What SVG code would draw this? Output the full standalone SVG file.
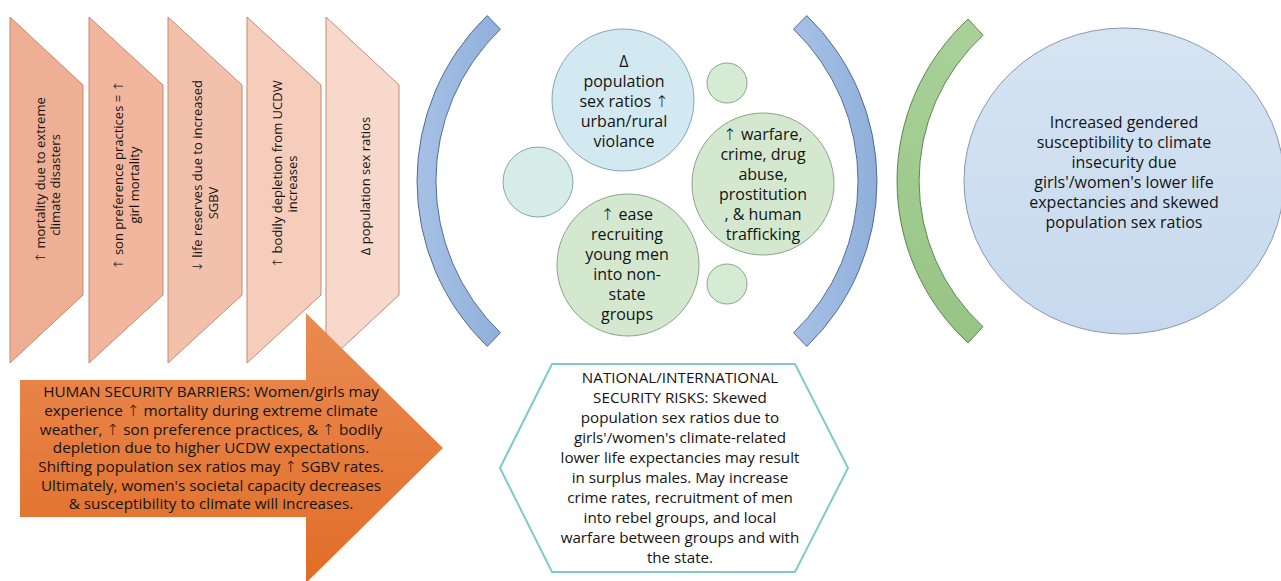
<svg xmlns="http://www.w3.org/2000/svg" width="1281" height="581" viewBox="0 0 1281 581">
<defs>
<style>
text{font-family:"Open Sans","Liberation Sans",sans-serif;fill:#141414;text-anchor:middle}
.ar{font-family:"DejaVu Sans",sans-serif;font-weight:200}
.pt{font-size:13px}
.ct{font-size:16px}
.at{font-size:15.3px}
.ht{font-size:15.2px}
.pent{stroke:#C28B76;stroke-width:1}
.bub{stroke-width:1}
</style>
<linearGradient id="gOr" x1="0" y1="0" x2="0" y2="1"><stop offset="0" stop-color="#EA8B52"/><stop offset="1" stop-color="#E16D27"/></linearGradient>
<linearGradient id="gBl" x1="0" y1="0" x2="1" y2="0"><stop offset="0" stop-color="#A7C1E5"/><stop offset="1" stop-color="#8FAFDA"/></linearGradient>
<linearGradient id="gGr" x1="0" y1="0" x2="0" y2="1"><stop offset="0" stop-color="#A9D19A"/><stop offset="1" stop-color="#97C585"/></linearGradient>
<linearGradient id="gBig" x1="0" y1="0" x2="0" y2="1"><stop offset="0" stop-color="#D6E4F2"/><stop offset="1" stop-color="#C6D9EE"/></linearGradient>
</defs>

<g id="pentagon1"><polygon class="pent" points="10,17 83,85 83,295 10,363" fill="#EEAF94"/>
<text class="pt" transform="translate(44.5,180) rotate(-90)"><tspan x="0" y="0"><tspan class="ar">↑</tspan> mortality due to extreme</tspan><tspan x="-5" y="15">climate disasters</tspan></text></g>
<g id="pentagon2"><polygon class="pent" points="89,17 163,85 163,295 89,363" fill="#F1B69D"/>
<text class="pt" transform="translate(122.5,175) rotate(-90)"><tspan x="0" y="0"><tspan class="ar">↑</tspan> son preference practices = <tspan class="ar">↑</tspan></tspan><tspan x="-10" y="16">girl mortality</tspan></text></g>
<g id="pentagon3"><polygon class="pent" points="168,17 242,85 242,295 168,363" fill="#F3C1AB"/>
<text class="pt" transform="translate(201.5,176) rotate(-90)"><tspan x="0" y="0"><tspan class="ar">↓</tspan> life reserves due to increased</tspan><tspan x="-27" y="16">SGBV</tspan></text></g>
<g id="pentagon4"><polygon class="pent" points="247,17 321,85 321,295 247,363" fill="#F6CCBA"/>
<text class="pt" transform="translate(281.5,174) rotate(-90)"><tspan x="0" y="0"><tspan class="ar">↑</tspan> bodily depletion from UCDW</tspan><tspan x="-10" y="15">increases</tspan></text></g>
<g id="pentagon5"><polygon class="pent" points="326,17 399,85 399,295 326,363" fill="#F8D8CA"/>
<text class="pt" transform="translate(369.5,186) rotate(-90)"><tspan x="0" y="0">Δ population sex ratios</tspan></text></g>

<g id="arrow"><polygon points="20,380 306,380 306,313 443,448 306,583 306,517 20,517" fill="url(#gOr)"/>
<text class="at"><tspan x="211" y="397">HUMAN SECURITY BARRIERS: Women/girls may</tspan><tspan x="211" y="416">experience <tspan class="ar">↑</tspan> mortality during extreme climate</tspan><tspan x="211" y="434.5">weather, <tspan class="ar">↑</tspan> son preference practices, &amp; <tspan class="ar">↑</tspan> bodily</tspan><tspan x="211" y="453">depletion due to higher UCDW expectations.</tspan><tspan x="211" y="472">Shifting population sex ratios may <tspan class="ar">↑</tspan> SGBV rates.</tspan><tspan x="211" y="490.5">Ultimately, women's societal capacity decreases</tspan><tspan x="211" y="509">&amp; susceptibility to climate will increases.</tspan></text></g>

<g id="connectors">
<path id="bracketLeft" d="M487.2,15.6 A230,230 0 0 0 487.2,346.4 L500.4,332.8 A211,211 0 0 1 500.4,29.2 Z" fill="url(#gBl)" stroke="#4F6C95" stroke-width="1"/>
<path id="bracketRight" d="M806.8,15.6 A230,230 0 0 1 806.8,346.4 L793.6,332.8 A211,211 0 0 0 793.6,29.2 Z" fill="url(#gBl)" stroke="#4F6C95" stroke-width="1"/>
<path id="bracketGreen" d="M968.1,19.1 A220,220 0 0 0 968.1,342.9 L983,326.7 A198,198 0 0 1 983,35.3 Z" fill="url(#gGr)" stroke="#5A854E" stroke-width="1"/>
</g>

<g id="circleSmallLeft"><circle class="bub" cx="538" cy="182" r="35" fill="#D6ECE8" stroke="#86A8A3"/></g>
<g id="circleSmallTop"><circle class="bub" cx="727" cy="83" r="20" fill="#D6EBD4" stroke="#89A885"/></g>
<g id="circleSmallBottom"><circle class="bub" cx="727" cy="284" r="20" fill="#D6EBD4" stroke="#89A885"/></g>
<g id="circleTop"><circle class="bub" cx="623" cy="100" r="71" fill="#D3E9F1" stroke="#86A4B2"/>
<text class="ct"><tspan x="624" y="67">Δ</tspan><tspan x="624" y="87">population</tspan><tspan x="624" y="107">sex ratios <tspan class="ar">↑</tspan></tspan><tspan x="624" y="127">urban/rural</tspan><tspan x="624" y="147">violance</tspan></text></g>
<g id="circleBottom"><circle class="bub" cx="628" cy="265" r="71" fill="#D3E8CF" stroke="#89A684"/>
<text class="ct"><tspan x="627" y="220"><tspan class="ar">↑</tspan> ease</tspan><tspan x="627" y="240">recruiting</tspan><tspan x="627" y="260">young men</tspan><tspan x="627" y="280">into non-</tspan><tspan x="627" y="300">state</tspan><tspan x="627" y="320">groups</tspan></text></g>
<g id="circleRight"><circle class="bub" cx="763" cy="184" r="71" fill="#D3E8CF" stroke="#89A684"/>
<text class="ct"><tspan x="763" y="140"><tspan class="ar">↑</tspan> warfare,</tspan><tspan x="763" y="160">crime, drug</tspan><tspan x="763" y="180">abuse,</tspan><tspan x="763" y="200">prostitution</tspan><tspan x="763" y="220">, &amp; human</tspan><tspan x="763" y="240">trafficking</tspan></text></g>

<g id="hexagon"><polygon points="500,468 552,364 795,364 848,468 795,572 552,572" fill="#FFFFFF" stroke="#7FCACA" stroke-width="2"/>
<text class="ht"><tspan x="680" y="383">NATIONAL/INTERNATIONAL</tspan><tspan x="680" y="403">SECURITY RISKS: Skewed</tspan><tspan x="680" y="423">population sex ratios due to</tspan><tspan x="680" y="443">girls'/women's climate-related</tspan><tspan x="680" y="463">lower life expectancies may result</tspan><tspan x="680" y="483">in surplus males. May increase</tspan><tspan x="680" y="503">crime rates, recruitment of men</tspan><tspan x="680" y="523">into rebel groups, and local</tspan><tspan x="680" y="543">warfare between groups and with</tspan><tspan x="680" y="563">the state.</tspan></text></g>

<g id="bigCircle"><ellipse cx="1124" cy="181" rx="160" ry="153" fill="url(#gBig)" stroke="#8898AE" stroke-width="1"/>
<text class="ct"><tspan x="1124" y="128">Increased gendered</tspan><tspan x="1124" y="148">susceptibility to climate</tspan><tspan x="1124" y="168">insecurity due</tspan><tspan x="1124" y="188">girls'/women's lower life</tspan><tspan x="1124" y="208">expectancies and skewed</tspan><tspan x="1124" y="228">population sex ratios</tspan></text></g>
</svg>
